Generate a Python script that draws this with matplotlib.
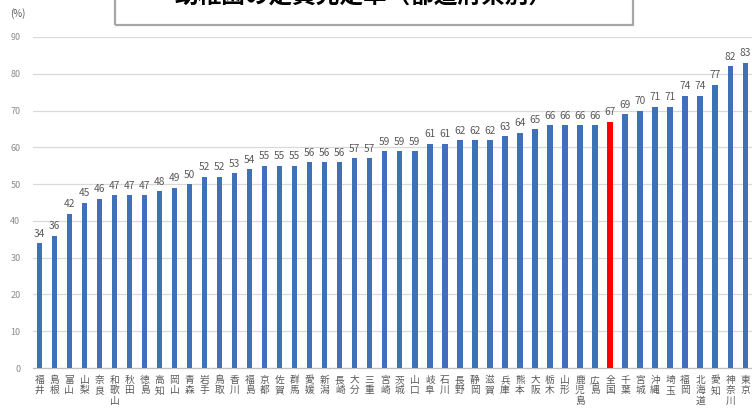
import matplotlib
matplotlib.use("Agg")
import matplotlib.pyplot as plt
import matplotlib.patches as mpatches

plt.rcParams['font.family'] = ['Noto Sans CJK JP', 'DejaVu Sans']

# 幼稚園の定員充足率（%）, prefectures sorted ascending, 全国 included
prefs = ['福井', '島根', '富山', '山梨', '奈良', '和歌山', '秋田', '徳島', '高知', '岡山',
         '青森', '岩手', '鳥取', '香川', '福島', '京都', '佐賀', '群馬', '愛媛', '新潟',
         '長崎', '大分', '三重', '宮崎', '茨城', '山口', '岐阜', '石川', '長野', '静岡',
         '滋賀', '兵庫', '熊本', '大阪', '栃木', '山形', '鹿児島', '広島', '全国', '千葉',
         '宮城', '沖縄', '埼玉', '福岡', '北海道', '愛知', '神奈川', '東京']
rates = [34, 36, 42, 45, 46, 47, 47, 47, 48, 49,
         50, 52, 52, 53, 54, 55, 55, 55, 56, 56,
         56, 57, 57, 59, 59, 59, 61, 61, 62, 62,
         62, 63, 64, 65, 66, 66, 66, 66, 67, 69,
         70, 71, 71, 74, 74, 77, 82, 83]
yticks = [0, 10, 20, 30, 40, 50, 60, 70, 80, 90]

BLUE = '#3f70b8'
RED = '#ff0000'
GRAY = '#595959'

fig = plt.figure(figsize=(7.52, 4.08), dpi=100)
ax = fig.add_axes([33 / 752, 40 / 408, 1 - 33 / 752, 331 / 408])

x = list(range(len(prefs)))
colors = [RED if p == '全国' else BLUE for p in prefs]
bars = ax.bar(x, rates, width=0.36, color=colors, zorder=3)

for xi, v in zip(x, rates):
    ax.text(xi, v + 1.2, str(v), ha='center', va='bottom', fontsize=7.3,
            color=GRAY, clip_on=False)

ax.set_xlim(-0.42, len(prefs) - 0.55)
ax.set_ylim(0, 90)
ax.set_yticks(yticks)
ax.tick_params(axis='y', length=0, pad=9, labelsize=6.5, labelcolor='#8c8c8c')
ax.set_xticks(x)
ax.set_xticklabels(['\n'.join(p) for p in prefs], fontsize=7, color=GRAY,
                   linespacing=1.05, va='top')
ax.tick_params(axis='x', length=0, pad=5)
ax.grid(axis='y', color='#d9d9d9', linewidth=0.9, zorder=0)
for side in ['top', 'right', 'left']:
    ax.spines[side].set_visible(False)
ax.spines['bottom'].set_color('#bfbfbf')
ax.spines['bottom'].set_linewidth(0.9)

fig.text(10 / 752, 1 - 14 / 408, '(%)', fontsize=7, color=GRAY, va='center', ha='left')

# title box, partly above the top edge
box = mpatches.Rectangle((115 / 752, 1 - 25 / 408), 518 / 752, 60 / 408,
                         transform=fig.transFigure, fill=False,
                         edgecolor='#a6a6a6', linewidth=1.6, clip_on=False)
fig.patches.append(box)
fig.text(364 / 752, 1 + 4 / 408, '幼稚園の定員充足率（都道府県別）', ha='center', va='center',
         fontsize=17, fontweight='bold', color='black')

fig.savefig('out.png', dpi=100)
